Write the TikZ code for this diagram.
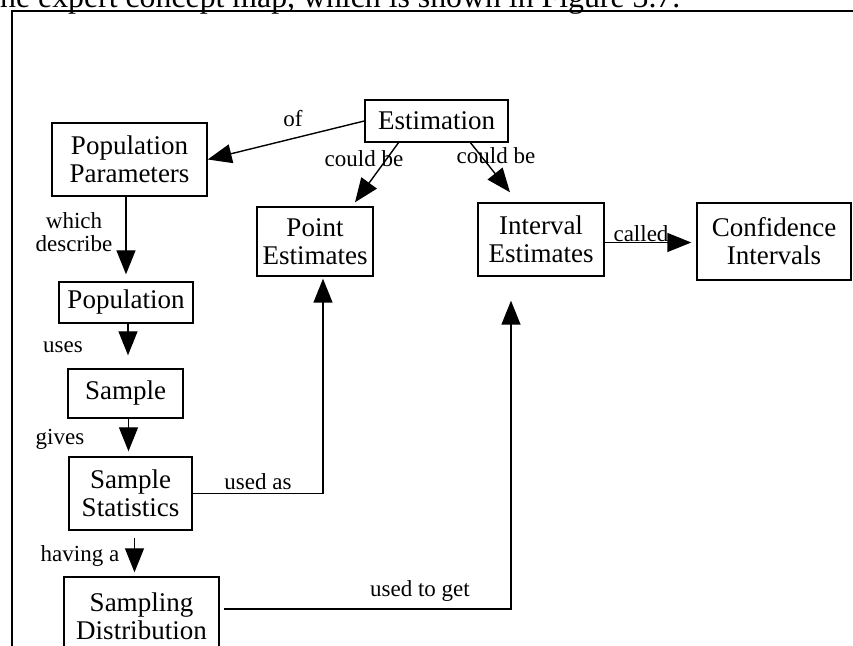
\documentclass[tikz,border=0pt]{standalone}
\usepackage{fontspec}
\setmainfont{Liberation Serif}
\usetikzlibrary{arrows.meta, positioning, calc}

\begin{document}
\begin{tikzpicture}[
  x=0.5pt, y=-0.5pt,
  box/.style={draw, line width=0.7pt, inner sep=1pt, align=center,
              font=\fontsize{13.5}{14}\selectfont},
  tag/.style={inner sep=0pt, align=center, font=\fontsize{11.5}{11.5}\selectfont},
  arrow/.style={line width=0.7pt, -{Triangle[length=12pt, width=9.5pt]}}
]
  \useasboundingbox (0,0) rectangle (853,646);
  \clip (0,0) rectangle (853,646);

  % text line of the page, cut off at the top
  \node[anchor=base west, inner sep=0pt, font=\fontsize{15.9}{16}\selectfont] (caption) at (-9,7.5)
    {the expert concept map, which is shown in Figure 3.7.};
  \draw[line width=1.1pt] (12,11) rectangle (900,700);

  % concepts
  \node[box, minimum width=71.5pt, minimum height=21pt] (estimation) at (436.5,121) {Estimation};
  \node[box, minimum width=77.5pt, minimum height=36.5pt] (popparam) at (129.5,159.5) {Population\\Parameters};
  \node[box, minimum width=58pt, minimum height=34.5pt] (point) at (315,241.5) {Point\\Estimates};
  \node[box, minimum width=63pt, minimum height=36.5pt] (interval) at (541,239.5) {Interval\\Estimates};
  \node[box, minimum width=77pt, minimum height=38.5pt] (confidence) at (774,241.5) {Confidence\\Intervals};
  \node[box, minimum width=67pt, minimum height=20.5pt] (population) at (126,302.5) {Population};
  \node[box, minimum width=57.5pt, minimum height=24.5pt] (sample) at (125.5,393.5) {Sample};
  \node[box, minimum width=61.5pt, minimum height=36.5pt] (stats) at (130.5,493.5) {Sample\\Statistics};
  \node[box, minimum width=77.5pt, minimum height=39pt] (sdist) at (141.5,616) {Sampling\\Distribution};

  % links
  \draw[arrow] (estimation.west) -- (popparam.east);
  \draw[arrow] ([xshift=-19pt]estimation.south) -- ([xshift=20pt,yshift=2pt]point.north);
  \draw[arrow] ([xshift=17pt]estimation.south) -- ([xshift=-15.5pt,yshift=5pt]interval.north);
  \draw[arrow, shorten >=3.5pt] (population.north |- popparam.south) -- (population.north);
  \draw[arrow, shorten >=6.5pt] ([xshift=1pt]population.south) -- ([xshift=1pt]population.south |- sample.north);
  \draw[arrow, shorten >=2.5pt] ([xshift=1.5pt]sample.south) -- ([xshift=1.5pt]sample.south |- stats.north);
  \draw[arrow, shorten <=3.5pt, shorten >=2pt] ([xshift=2pt]stats.south) -- ([xshift=2pt]stats.south |- sdist.north);
  \draw[arrow, shorten >=1pt] (stats.east) -| ([xshift=4pt]point.south);
  \draw[arrow, shorten <=2pt, shorten >=12pt] ([yshift=3.5pt]sdist.east) -| ([xshift=-15pt]interval.south);
  \draw[arrow, shorten >=2.5pt] ([yshift=-1.5pt]interval.east) -- ([yshift=-1.5pt]interval.east -| confidence.west);

  % link words
  \node[tag, anchor=base] (of) at (293,127) {of};
  \node[tag, anchor=base] (couldbe1) at (364,167) {could be};
  \node[tag, anchor=base] (couldbe2) at (496,164) {could be};
  \node[tag] (describe) at (74,232) {which\\describe};
  \node[tag, anchor=base] (uses) at (63,353) {uses};
  \node[tag, anchor=base] (gives) at (60,445) {gives};
  \node[tag, anchor=base] (having) at (80,562) {having a};
  \node[tag, anchor=base] (usedas) at (258,490) {used as};
  \node[tag, anchor=base] (called) at (641,242) {called};
  \node[tag, anchor=base] (usedto) at (420,597) {used to get};
\end{tikzpicture}
\end{document}
